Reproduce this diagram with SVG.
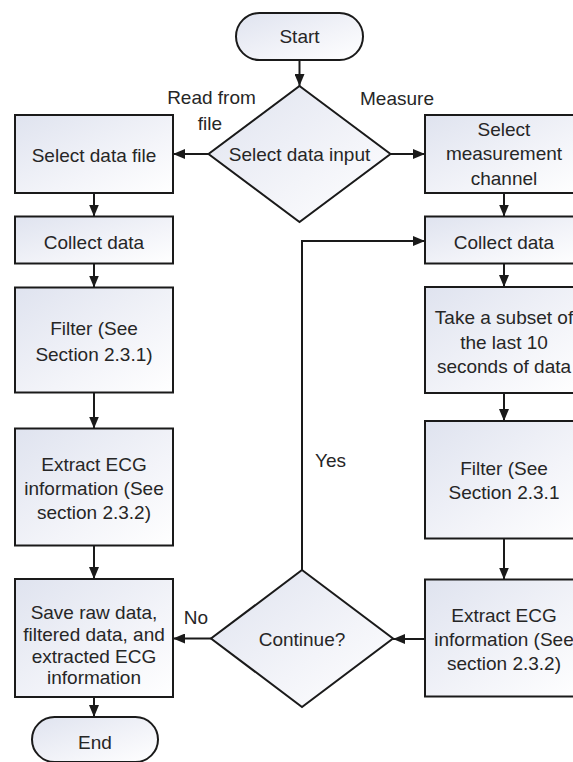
<svg xmlns="http://www.w3.org/2000/svg" width="573" height="762" viewBox="0 0 573 762">
<defs>
<linearGradient id="fillg" x1="0" y1="0" x2="1" y2="1">
<stop offset="0" stop-color="#dfe3ef"/>
<stop offset="0.6" stop-color="#f3f4f9"/>
<stop offset="1" stop-color="#ffffff"/>
</linearGradient>
<marker id="arr" markerUnits="userSpaceOnUse" viewBox="0 0 12 10" refX="12" refY="5" markerWidth="12" markerHeight="10" orient="auto">
<path d="M0,0 L12,5 L0,10 z" fill="#1a1a1a"/>
</marker>
<style>
.shape{fill:url(#fillg);stroke:#1a1a1a;stroke-width:2}
.conn{fill:none;stroke:#1a1a1a;stroke-width:2;marker-end:url(#arr)}
text{font-family:"Liberation Sans",Arial,sans-serif;font-size:19px;fill:#262626;text-anchor:middle}
</style>
</defs>
<rect width="573" height="762" fill="#ffffff"/>
<g id="connectors">
<path class="conn" d="M299.5,60 L299.5,86"/>
<path class="conn" d="M208.5,154 L173,154"/>
<path class="conn" d="M390.5,154 L425,154"/>
<path class="conn" d="M94,193 L94,216.5"/>
<path class="conn" d="M94,263.5 L94,287.5"/>
<path class="conn" d="M94,392.5 L94,428.5"/>
<path class="conn" d="M94,545.5 L94,579"/>
<path class="conn" d="M94,697 L94,717"/>
<path class="conn" d="M504,193 L504,216.5"/>
<path class="conn" d="M504,263.5 L504,287"/>
<path class="conn" d="M504,393 L504,421"/>
<path class="conn" d="M504,538.5 L504,579.5"/>
<path class="conn" d="M425,639 L393,639"/>
<path class="conn" d="M211,638.5 L173,638.5"/>
<path class="conn" d="M302,570 L302,241 L425,241"/>
</g>
<g id="labels">
<text x="211.5" y="104">Read from</text>
<text x="210" y="129.5">file</text>
<text x="397" y="105">Measure</text>
<text x="330.5" y="467">Yes</text>
<text x="196" y="624">No</text>
</g>
<g id="start">
<rect class="shape" x="236" y="13" width="127" height="47" rx="23.5"/>
<text x="299.5" y="43">Start</text>
</g>
<g id="select-input">
<polygon class="shape" points="299.5,86 390.5,154 299.5,222 208.5,154"/>
<text x="299.5" y="161">Select data input</text>
</g>
<g id="select-file">
<rect class="shape" x="15" y="115" width="158" height="78"/>
<text x="94" y="162">Select data file</text>
</g>
<g id="select-channel">
<rect class="shape" x="425" y="115" width="158" height="78"/>
<text x="504" y="136">Select</text>
<text x="504" y="160">measurement</text>
<text x="504" y="185">channel</text>
</g>
<g id="collect-left">
<rect class="shape" x="15" y="216.5" width="158" height="47"/>
<text x="94" y="248.5">Collect data</text>
</g>
<g id="filter-left">
<rect class="shape" x="15" y="287.5" width="158" height="105"/>
<text x="94" y="335">Filter (See</text>
<text x="94" y="361">Section 2.3.1)</text>
</g>
<g id="extract-left">
<rect class="shape" x="15" y="428.5" width="158" height="117"/>
<text x="94" y="471">Extract ECG</text>
<text x="94" y="495">information (See</text>
<text x="94" y="519">section 2.3.2)</text>
</g>
<g id="save">
<rect class="shape" x="15" y="579" width="158" height="118"/>
<text x="94" y="619">Save raw data,</text>
<text x="94" y="641">filtered data, and</text>
<text x="94" y="663">extracted ECG</text>
<text x="94" y="684">information</text>
</g>
<g id="end">
<rect class="shape" x="32" y="717" width="126" height="45" rx="22.5"/>
<text x="95" y="748.5">End</text>
</g>
<g id="collect-right">
<rect class="shape" x="425" y="216.5" width="158" height="47"/>
<text x="504" y="248.5">Collect data</text>
</g>
<g id="subset">
<rect class="shape" x="425" y="287" width="158" height="106"/>
<text x="504" y="323.5">Take a subset of</text>
<text x="504" y="348.5">the last 10</text>
<text x="504" y="372.5">seconds of data</text>
</g>
<g id="filter-right">
<rect class="shape" x="425" y="421" width="158" height="117.5"/>
<text x="504" y="475">Filter (See</text>
<text x="504" y="499">Section 2.3.1</text>
</g>
<g id="extract-right">
<rect class="shape" x="425" y="579.5" width="158" height="117"/>
<text x="504" y="622">Extract ECG</text>
<text x="504" y="646">information (See</text>
<text x="504" y="670">section 2.3.2)</text>
</g>
<g id="continue">
<polygon class="shape" points="302,570 393,638.5 302,707 211,638.5"/>
<text x="302" y="645.5">Continue?</text>
</g>
</svg>
